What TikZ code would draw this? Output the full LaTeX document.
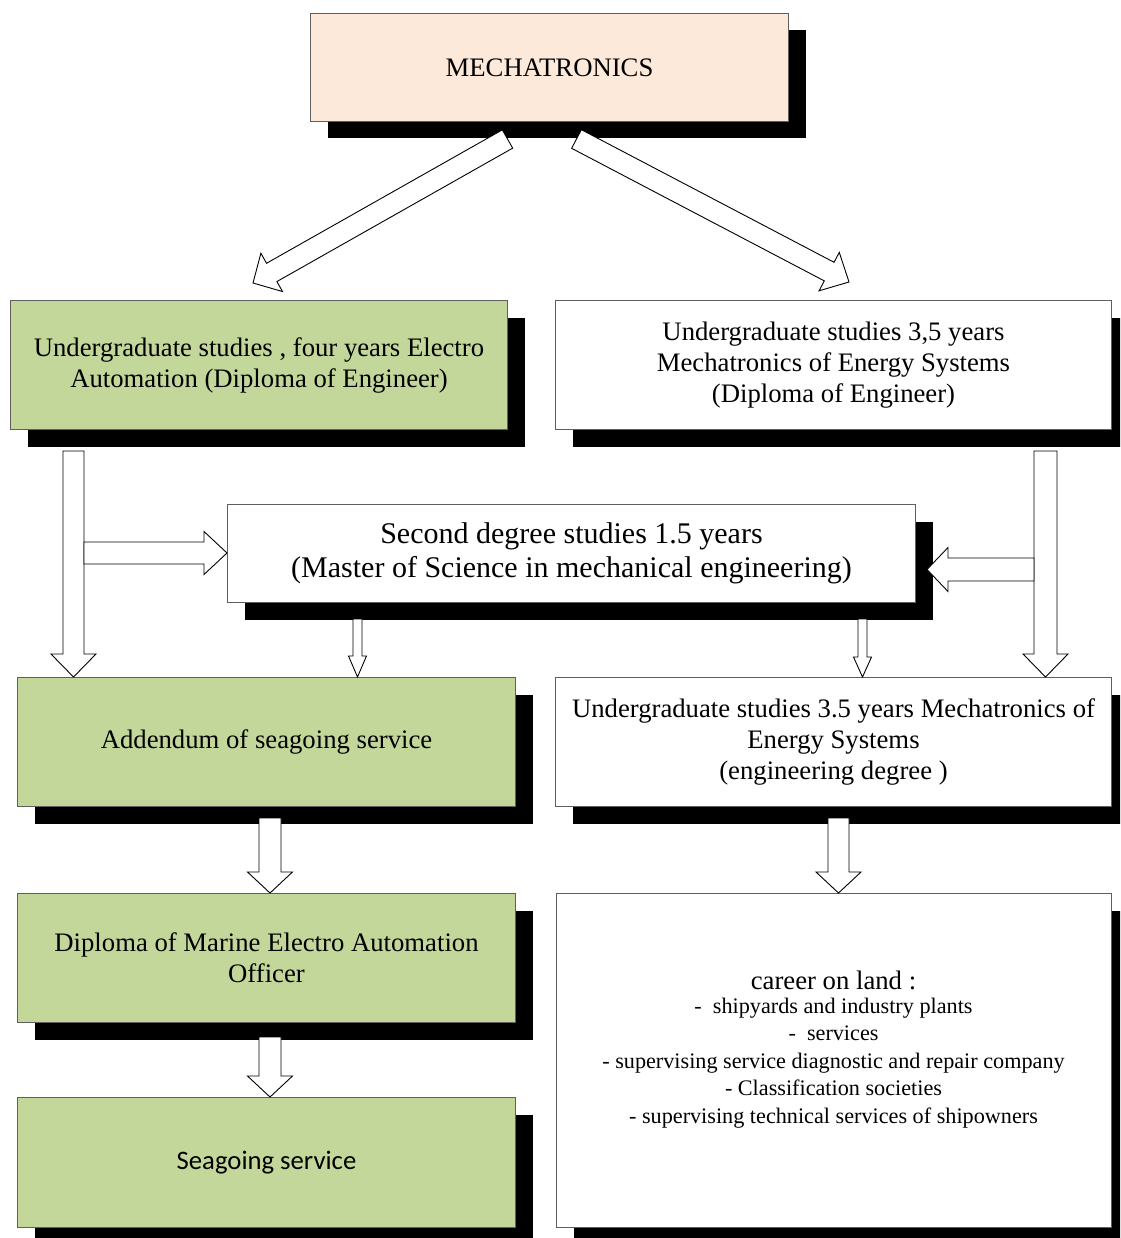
\documentclass[tikz,border=0pt]{standalone}
\usepackage{fontspec}
\setmainfont{Liberation Serif}
\newfontfamily\calibfont{Carlito}
\usetikzlibrary{calc,shadows}

\definecolor{boxgreen}{RGB}{196,215,155}
\definecolor{boxpeach}{RGB}{252,233,218}
\definecolor{edgegray}{RGB}{95,95,95}

\tikzset{
  box/.style={draw=edgegray, line width=1pt, inner sep=0pt, anchor=north west, align=center,
    drop shadow={shadow xshift=17pt, shadow yshift=-17pt, fill=black, opacity=1}},
  greenbox/.style={box, fill=boxgreen},
  whitebox/.style={box, fill=white},
  maintext/.style={font=\fontsize{26.7}{31}\selectfont},
  bigtext/.style={font=\fontsize{30}{33.5}\selectfont},
  listtext/.style={font=\fontsize{22.2}{27.5}\selectfont, align=center, inner sep=0pt},
  barr/.style={draw=black, fill=white, line width=0.9pt, line join=miter},
}

\newcommand\blockarrow[5]{%
  \path ($(#2)!#5!(#1)$) coordinate (hb);
  \draw[barr] ($(#1)!#3!90:(#2)$) -- ($(hb)!#3!90:(#2)$) -- ($(hb)!#4!90:(#2)$) -- (#2)
    -- ($(hb)!#4!-90:(#2)$) -- ($(hb)!#3!-90:(#2)$) -- ($(#1)!#3!-90:(#2)$) -- cycle;
}

\begin{document}
\begin{tikzpicture}[x=1pt,y=-1pt]
\useasboundingbox (0,0) rectangle (1120,1238);
\clip (0,0) rectangle (1120,1238);

% boxes
\node[box, fill=boxpeach, minimum width=478pt, minimum height=108pt, maintext] (mech) at (310,13) {MECHATRONICS};
\node[greenbox, minimum width=497pt, minimum height=129pt, maintext] (lt) at (10,300)
  {Undergraduate studies , four years Electro\\Automation (Diploma of Engineer)};
\node[whitebox, minimum width=556pt, minimum height=129pt, maintext] (rt) at (555,300)
  {Undergraduate studies 3,5 years\\Mechatronics of Energy Systems\\(Diploma of Engineer)};
\node[whitebox, minimum width=688pt, minimum height=98pt, bigtext] (mid) at (227,504)
  {Second degree studies 1.5 years\\(Master of Science in mechanical engineering)};
\node[greenbox, minimum width=498pt, minimum height=129pt, maintext] (add) at (17,677)
  {Addendum of seagoing service};
\node[whitebox, minimum width=556pt, minimum height=129pt, maintext] (rt2) at (555,677)
  {Undergraduate studies 3.5 years Mechatronics of\\Energy Systems\\(engineering degree )};
\node[greenbox, minimum width=498pt, minimum height=129pt, maintext] (dip) at (17,893)
  {Diploma of Marine Electro Automation\\Officer};
\node[greenbox, minimum width=498pt, minimum height=130pt, font=\calibfont\fontsize{26.7}{31}\selectfont] (sea) at (17,1097)
  {Seagoing service};
\node[whitebox, minimum width=555pt, minimum height=334pt] (career) at (556,893) {};
\node[maintext, inner sep=0pt] (carhead) at (833.5,980) {career on land :};
\node[listtext] (carlist) at (833.5,1063)
  {-\ \ shipyards and industry plants\\
   -\ \ services\\
   - supervising service diagnostic and repair company\\
   - Classification societies\\
   - supervising technical services of shipowners};

% arrows
\coordinate (d1s) at (507.5,139); \coordinate (d1e) at (253,283);
\blockarrow{d1s}{d1e}{10.5pt}{22pt}{21.5pt}
\coordinate (d2s) at (576.5,139); \coordinate (d2e) at (849,282);
\blockarrow{d2s}{d2e}{10.5pt}{21.7pt}{22.4pt}

\coordinate (v1s) at (73.5,451); \coordinate (v1e) at (v1s |- add.north);
\blockarrow{v1s}{v1e}{10.5pt}{22.5pt}{23pt}
\coordinate (h1s) at (84,553); \coordinate (h1e) at (h1s -| mid.west);
\blockarrow{h1s}{h1e}{11pt}{21.5pt}{23pt}

\coordinate (v2s) at (1045.5,451); \coordinate (v2e) at (v2s |- rt2.north);
\blockarrow{v2s}{v2e}{11.5pt}{22.5pt}{23pt}
\coordinate (h2s) at (1034,569.5); \coordinate (h2e) at (927,569.5);
\blockarrow{h2s}{h2e}{11.5pt}{22pt}{21pt}

\coordinate (s1s) at (357.5,619); \coordinate (s1e) at (s1s |- add.north);
\blockarrow{s1s}{s1e}{4.5pt}{9pt}{21pt}
\coordinate (s2s) at (862.5,619); \coordinate (s2e) at (s2s |- rt2.north);
\blockarrow{s2s}{s2e}{4.5pt}{9pt}{20pt}

\coordinate (l1s) at (270,818); \coordinate (l1e) at (l1s |- dip.north);
\blockarrow{l1s}{l1e}{11pt}{22.5pt}{21pt}
\coordinate (l2s) at (270,1037); \coordinate (l2e) at (l2s |- sea.north);
\blockarrow{l2s}{l2e}{11pt}{22.5pt}{21pt}
\coordinate (l3s) at (838.5,818); \coordinate (l3e) at (l3s |- career.north);
\blockarrow{l3s}{l3e}{10.5pt}{22.5pt}{21pt}
\end{tikzpicture}
\end{document}
